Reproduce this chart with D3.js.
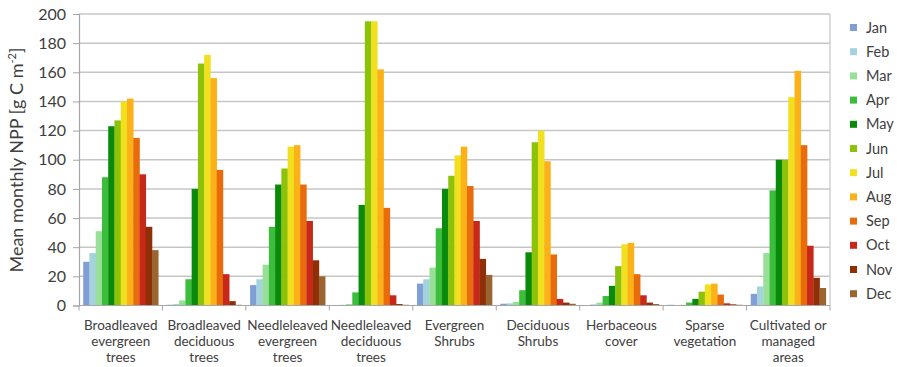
<!DOCTYPE html>
<html><head><meta charset="utf-8">
<script src="https://cdn.jsdelivr.net/npm/d3@7"></script>
<style>body{margin:0;background:#fff}svg{display:block}text{font-family:Lato,"Open Sans",sans-serif;fill:#404040}</style>
</head><body><svg id="c" width="897" height="367"></svg>
<script>
const categories = [
  ["Broadleaved","evergreen","trees"],
  ["Broadleaved","deciduous","trees"],
  ["Needleleaved","evergreen","trees"],
  ["Needleleaved","deciduous","trees"],
  ["Evergreen","Shrubs"],
  ["Deciduous","Shrubs"],
  ["Herbaceous","cover"],
  ["Sparse","vegetation"],
  ["Cultivated or","managed","areas"]
];
const months = ["Jan","Feb","Mar","Apr","May","Jun","Jul","Aug","Sep","Oct","Nov","Dec"];
const colors = ["#7f9fd6","#a4d3dd","#98e098","#3cbd3c","#0a8a0a","#8cc20a","#f0e020","#fbb117","#e86c0c","#c8281a","#8f2f06","#9a6530"];
const broadEvergreen   = [30, 36, 51, 88, 123, 127, 140, 142, 115, 90, 54, 38];
const broadDeciduous   = [0.5, 1, 3.5, 18, 80, 166, 172, 156, 93, 21.5, 3, 0.5];
const needleEvergreen  = [14, 18, 28, 54, 83, 94, 109, 110, 83, 58, 31, 20];
const needleDeciduous  = [0.3, 0.5, 1, 9, 69, 195, 195, 162, 67, 7, 1, 0.5];
const evergreenShrubs  = [15, 18, 26, 53, 80, 89, 103, 109, 82, 58, 32, 21];
const deciduousShrubs  = [1.2, 1.5, 2.5, 10.5, 36.5, 112, 120, 99, 35, 4.5, 2, 1.2];
const herbaceous       = [0.3, 0.8, 2, 6.5, 13.5, 27, 42, 43, 21.5, 7, 2, 1];
const sparse           = [0.5, 0.3, 0.5, 2, 4.5, 9.5, 14.5, 15, 7.5, 1.5, 0.8, 0.5];
const cultivated       = [8, 13, 36, 79, 100, 100, 143, 161, 110, 41, 19, 12];
const series = [broadEvergreen, broadDeciduous, needleEvergreen, needleDeciduous, evergreenShrubs, deciduousShrubs, herbaceous, sparse, cultivated];
const yTicks = [0,20,40,60,80,100,120,140,160,180,200];
const yLabel = "Mean monthly NPP [g C m";

const svg = d3.select("#c");
const L = 79, R = 830, T = 14, B = 305.5;
const y = d3.scaleLinear().domain([0,200]).range([B,T]);
const x0 = d3.scaleBand().domain(d3.range(categories.length)).range([L,R]).padding(0);
const x1 = d3.scaleBand().domain(months).range([0,x0.bandwidth()]).paddingInner(0).paddingOuter(0.67);

// gridlines
svg.append("g").selectAll("line").data(yTicks.filter(d=>d>0)).join("line")
  .attr("x1",L).attr("x2",R).attr("y1",d=>y(d)).attr("y2",d=>y(d))
  .attr("stroke","#c6c6c6").attr("stroke-width",1.5);
// right border
svg.append("line").attr("x1",R).attr("x2",R).attr("y1",T).attr("y2",B).attr("stroke","#c6c6c6").attr("stroke-width",1.2);

// bars
const g = svg.append("g");
series.forEach((vals,i)=>{
  g.append("g").attr("transform",`translate(${x0(i)},0)`).selectAll("rect").data(vals).join("rect")
    .attr("x",(d,j)=>x1(months[j])).attr("width",x1.bandwidth()+0.3)
    .attr("y",d=>y(d)).attr("height",d=>B-y(d)).attr("fill",(d,j)=>colors[j]);
});

// y axis
const ya = svg.append("g").attr("transform",`translate(${L},0)`)
  .call(d3.axisLeft(y).tickValues(yTicks).tickSize(6).tickPadding(7).tickFormat(d3.format("d")));
ya.select(".domain").attr("stroke","#a6a6a6").attr("stroke-width",1.2);
ya.selectAll(".tick line").attr("stroke","#a6a6a6");
ya.selectAll("text").attr("font-size",16).style("font-family","Lato,sans-serif").attr("fill","#404040");

// x axis
const xa = svg.append("g").attr("transform",`translate(0,${B})`);
xa.append("line").attr("x1",L).attr("x2",R).attr("stroke","#a6a6a6").attr("stroke-width",1.2);
xa.selectAll("line.tk").data(d3.range(categories.length+1)).join("line").attr("class","tk")
  .attr("x1",i=>L+i*x0.step()).attr("x2",i=>L+i*x0.step()).attr("y1",0).attr("y2",5)
  .attr("stroke","#a6a6a6");
categories.forEach((lines,i)=>{
  const t = xa.append("text").attr("text-anchor","middle").attr("font-size",13.5)
    .attr("x",x0(i)+x0.bandwidth()/2);
  lines.forEach((s,k)=>t.append("tspan").attr("x",x0(i)+x0.bandwidth()/2).attr("y",24+k*16).text(s));
});

// y label
const yl = svg.append("text").attr("transform","translate(23,160) rotate(-90)").attr("text-anchor","middle")
  .attr("font-size",18).style("font-family","Lato,sans-serif");
yl.append("tspan").text(yLabel);
yl.append("tspan").attr("font-size",11).attr("dy",-7).text("-2");
yl.append("tspan").attr("dy",7).text("]");

// legend
const lg = svg.append("g").selectAll("g").data(months).join("g")
  .attr("transform",(d,i)=>`translate(850,${27.5+i*24.2})`);
lg.append("rect").attr("x",0).attr("y",-3.5).attr("width",7).attr("height",7).attr("fill",(d,i)=>colors[i]);
lg.append("text").attr("x",16).attr("y",5).attr("font-size",14.5).style("font-family","Lato,sans-serif").text(d=>d);
</script></body></html>
